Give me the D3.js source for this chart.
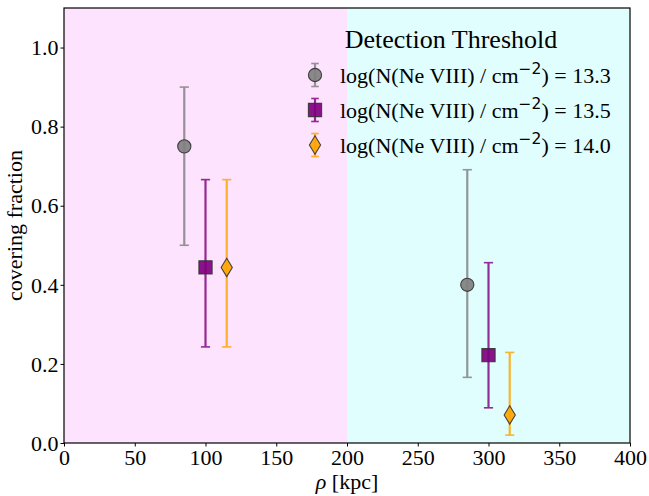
<!DOCTYPE html>
<html>
<head>
<meta charset="utf-8">
<script src="https://cdn.jsdelivr.net/npm/d3@7"></script>
<style>
  html, body { margin: 0; padding: 0; background: #fff; }
  svg { display: block; }
  text { font-family: "Liberation Serif", "Times New Roman", serif; fill: #000; }
</style>
</head>
<body>
<div id="chart"></div>
<script>
// Covering fraction of Ne VIII absorbers vs impact parameter, three detection thresholds
const thresholds = ["13.3", "13.5", "14.0"];
const rho = [
  [85, 285],
  [100, 300],
  [115, 315]
];
const fraction = [
  [0.75, 0.40],
  [0.444, 0.222],
  [0.444, 0.071]
];
const errLow = [
  [0.50, 0.166],
  [0.243, 0.089],
  [0.243, 0.020]
];
const errHigh = [
  [0.90, 0.691],
  [0.666, 0.456],
  [0.666, 0.229]
];
const colors = ["#808080", "#800080", "#ffa500"];
const shapes = ["circle", "square", "thin_diamond"];
const xTicks = [0, 50, 100, 150, 200, 250, 300, 350, 400];
const yTicks = [0.0, 0.2, 0.4, 0.6, 0.8, 1.0];
const regions = [
  { x0: 0, x1: 200, color: "#fde3fd" },
  { x0: 200, x1: 400, color: "#e0fefe" }
];

const W = 649, H = 496;
const margin = { left: 64, right: 19, top: 8, bottom: 53 };

const svg = d3.select("#chart").append("svg")
  .attr("width", W).attr("height", H);

const x = d3.scaleLinear().domain([0, 400]).range([margin.left, W - margin.right]);
const y = d3.scaleLinear().domain([0, 1.1]).range([H - margin.bottom, margin.top]);

// shaded halves
svg.append("g").selectAll("rect").data(regions).join("rect")
  .attr("x", d => x(d.x0)).attr("y", y(1.1))
  .attr("width", d => x(d.x1) - x(d.x0))
  .attr("height", y(0) - y(1.1))
  .attr("fill", d => d.color);

function markerPath(shape) {
  if (shape === "circle") return d3.symbol(d3.symbolCircle, Math.PI * 6.6 * 6.6)();
  if (shape === "square") return "M-6.6,-6.6H6.6V6.6H-6.6Z";
  return "M0,-9.2L5.6,0L0,9.2L-5.6,0Z";
}

const capHalf = 4.6;
const series = thresholds.map((t, i) => ({
  t, i,
  pts: rho[i].map((r, j) => ({ r, v: fraction[i][j], lo: errLow[i][j], hi: errHigh[i][j] }))
}));

function drawBar(g, cx, yLo, yHi, cap, color) {
  const eb = g.append("g").attr("opacity", 0.82);
  eb.append("line")
    .attr("x1", cx).attr("x2", cx).attr("y1", yLo).attr("y2", yHi)
    .attr("stroke", color).attr("stroke-width", 2.2);
  [yLo, yHi].forEach(c => {
    eb.append("line")
      .attr("x1", cx - cap).attr("x2", cx + cap).attr("y1", c).attr("y2", c)
      .attr("stroke", color).attr("stroke-width", 1.6);
  });
}

function drawMarker(g, cx, cy, shape, color) {
  g.append("path")
    .attr("d", markerPath(shape))
    .attr("transform", `translate(${cx},${cy})`)
    .attr("fill", color).attr("fill-opacity", 0.92)
    .attr("stroke", "#333").attr("stroke-width", 1.1).attr("stroke-opacity", 0.9);
}

const plot = svg.append("g");
series.forEach(s => {
  const g = plot.append("g");
  s.pts.forEach(p => {
    drawBar(g, x(p.r), y(p.lo), y(p.hi), capHalf, colors[s.i]);
    drawMarker(g, x(p.r), y(p.v), shapes[s.i], colors[s.i]);
  });
});

// axes
const xAxis = svg.append("g")
  .attr("transform", `translate(0,${y(0)})`)
  .call(d3.axisBottom(x).tickValues(xTicks).tickSize(3.5).tickPadding(3).tickFormat(d3.format("d")));
const yAxis = svg.append("g")
  .attr("transform", `translate(${x(0)},0)`)
  .call(d3.axisLeft(y).tickValues(yTicks).tickSize(3.5).tickPadding(2).tickFormat(d3.format(".1f")));
[xAxis, yAxis].forEach(a => {
  a.select(".domain").remove();
  a.selectAll("line").attr("stroke", "#000").attr("stroke-width", 1);
  a.selectAll("text").style("font-size", "22px").attr("font-family", "Liberation Serif");
});
xAxis.selectAll("text").attr("dy", "0.71em");
yAxis.selectAll("text").attr("dy", "0.33em");

// frame
svg.append("rect")
  .attr("x", x(0)).attr("y", y(1.1))
  .attr("width", x(400) - x(0)).attr("height", y(0) - y(1.1))
  .attr("fill", "none").attr("stroke", "#000").attr("stroke-width", 1.2);

// axis labels
const xl = svg.append("text")
  .attr("x", (x(0) + x(400)) / 2).attr("y", 489)
  .attr("text-anchor", "middle").style("font-size", "22px");
xl.append("tspan").attr("font-style", "italic").text("ρ");
xl.append("tspan").text(" [kpc]");

svg.append("text")
  .attr("transform", `translate(22,${(y(0) + y(1.1)) / 2}) rotate(-90)`)
  .attr("text-anchor", "middle").style("font-size", "22px")
  .text("covering fraction");

// legend
const leg = svg.append("g");
leg.append("text")
  .attr("x", 451).attr("y", 48)
  .attr("text-anchor", "middle").style("font-size", "26px")
  .text("Detection Threshold");

const legY = [75, 110, 145];
series.forEach(s => {
  const cy = legY[s.i], cx = 315;
  const g = leg.append("g");
  drawBar(g, cx, cy + 11.5, cy - 11.5, 3.8, colors[s.i]);
  drawMarker(g, cx, cy, shapes[s.i], colors[s.i]);

  const t = leg.append("text").attr("x", 340).attr("y", cy + 8).style("font-size", "22px");
  t.append("tspan").text("log(N(Ne VIII) / cm");
  t.append("tspan").attr("dy", -9).style("font-size", "15.5px").attr("font-family", "DejaVu Sans").text("−2");
  t.append("tspan").attr("dy", 9).text(") = " + s.t);
});
</script>
</body>
</html>
